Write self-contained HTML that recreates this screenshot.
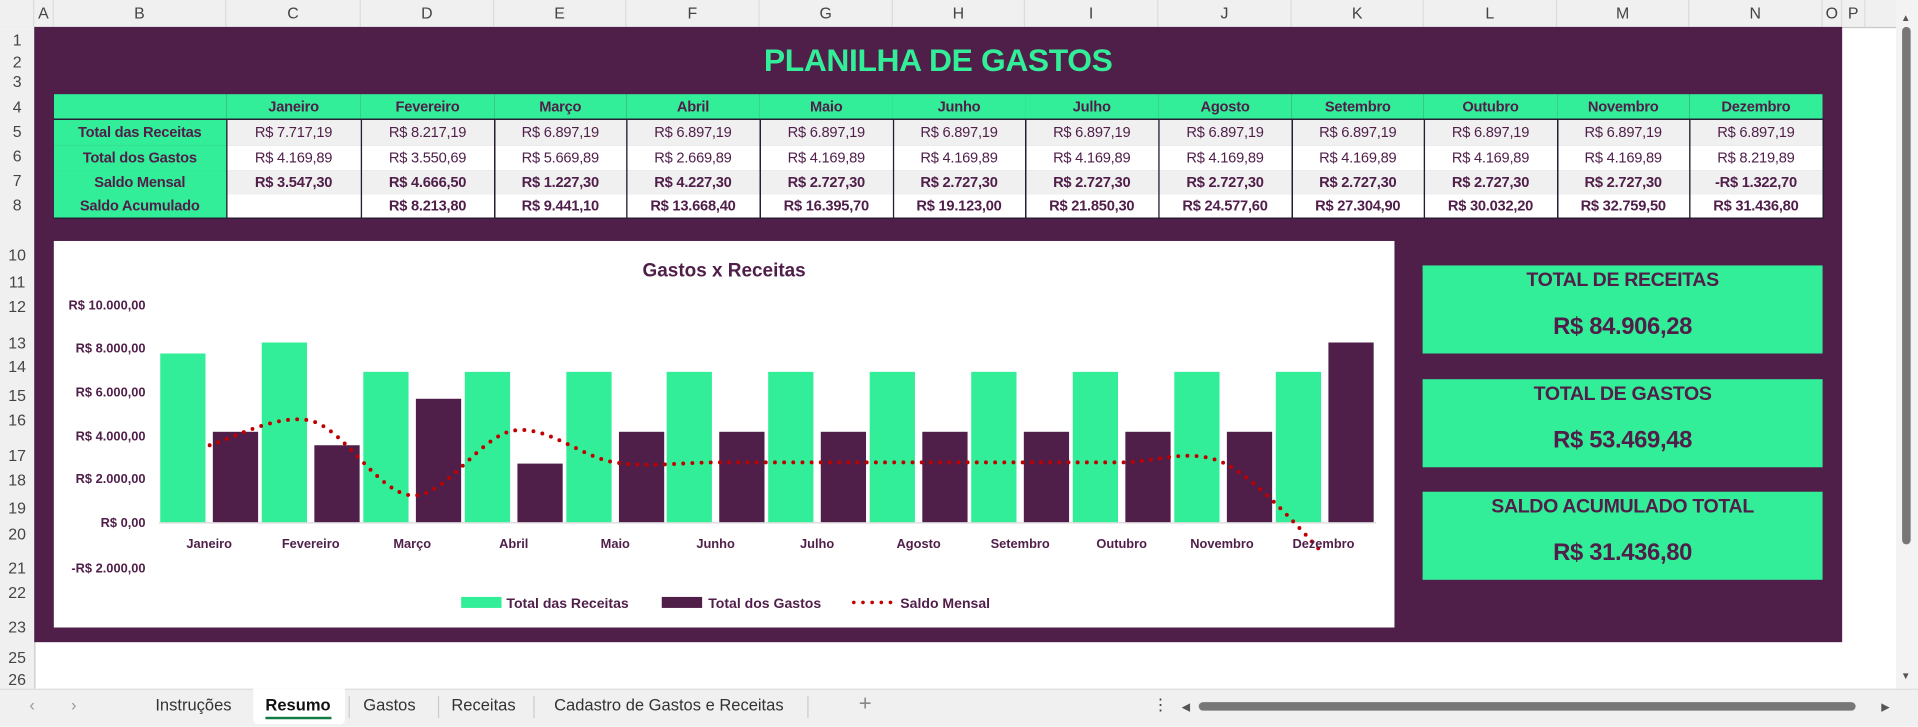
<!DOCTYPE html>
<html><head><meta charset="utf-8">
<style>
html,body{margin:0;padding:0;width:1918px;height:725px;overflow:hidden;background:#fff;}
#s{position:absolute;left:0;top:0;width:1568px;height:593px;transform:scale(1.22321);transform-origin:0 0;font-family:"Liberation Sans",sans-serif;color:#4f1e49;}
.a{position:absolute;}
.ch{position:absolute;top:0;height:22px;line-height:22px;text-align:center;font-size:13px;color:#444;border-right:1px solid #dcdcdc;box-sizing:border-box;}
.rh{position:absolute;left:0;width:28px;text-align:center;font-size:13px;color:#444;}
table{border-collapse:collapse;position:absolute;left:44px;top:77px;table-layout:fixed;}
td{padding:0;font-size:12px;text-align:center;white-space:nowrap;overflow:hidden;color:#4f1e49;letter-spacing:-0.2px;}
tr.h td{background:#33ee99;font-weight:bold;height:20px;}
td.l{background:#33ee99;font-weight:bold;}
td.d{border-left:1px solid #1f1f2f;border-right:1px solid #1f1f2f;}
tr.g td.d{background:#f0f0f0;}
tr.w td.d{background:#fff;}
tr.b td.d{font-weight:bold;}
.kpi{position:absolute;left:1163px;width:327px;height:72px;background:#33ee99;text-align:center;font-weight:bold;letter-spacing:-0.3px;}
.kpi .t{position:absolute;top:4px;left:0;right:0;font-size:16px;}
.kpi .v{position:absolute;top:39px;left:0;right:0;font-size:19.5px;}
.tab{position:absolute;top:569px;font-size:13.5px;color:#333;}
</style></head><body><div id="s">
<div class="a" style="left:0;top:0;width:1550px;height:22px;background:#f0f0f0;border-bottom:1px solid #c8c8c8;"></div>
<div class="a" style="left:0;top:0;width:28px;height:22px;border-right:1px solid #dcdcdc;box-sizing:border-box;"></div>
<div class="ch" style="left:28px;width:16px">A</div>
<div class="ch" style="left:44px;width:141px">B</div>
<div class="ch" style="left:185px;width:110px">C</div>
<div class="ch" style="left:295px;width:109px">D</div>
<div class="ch" style="left:404px;width:108px">E</div>
<div class="ch" style="left:512px;width:109px">F</div>
<div class="ch" style="left:621px;width:109px">G</div>
<div class="ch" style="left:730px;width:108px">H</div>
<div class="ch" style="left:838px;width:109px">I</div>
<div class="ch" style="left:947px;width:109px">J</div>
<div class="ch" style="left:1056px;width:108px">K</div>
<div class="ch" style="left:1164px;width:109px">L</div>
<div class="ch" style="left:1273px;width:108px">M</div>
<div class="ch" style="left:1381px;width:109px">N</div>
<div class="ch" style="left:1490px;width:16px">O</div>
<div class="ch" style="left:1506px;width:19px">P</div>
<div class="a" style="left:0;top:22px;width:28px;height:541px;background:#f0f0f0;border-right:1px solid #c8c8c8;"></div>
<div class="rh" style="top:25px">1</div><div class="rh" style="top:43px">2</div><div class="rh" style="top:59px">3</div>
<div class="rh" style="top:80px">4</div><div class="rh" style="top:100px">5</div><div class="rh" style="top:120px">6</div>
<div class="rh" style="top:140px">7</div><div class="rh" style="top:160px">8</div>
<div class="rh" style="top:201px">10</div><div class="rh" style="top:223px">11</div><div class="rh" style="top:243px">12</div>
<div class="rh" style="top:273px">13</div><div class="rh" style="top:292px">14</div><div class="rh" style="top:316px">15</div>
<div class="rh" style="top:336px">16</div><div class="rh" style="top:365px">17</div><div class="rh" style="top:385px">18</div>
<div class="rh" style="top:408px">19</div><div class="rh" style="top:429px">20</div><div class="rh" style="top:457px">21</div>
<div class="rh" style="top:477px">22</div><div class="rh" style="top:505px">23</div><div class="rh" style="top:530px">25</div>
<div class="rh" style="top:548px">26</div>
<div class="a" style="left:28px;top:22px;width:1478px;height:503px;background:#4f1e49;"></div>
<div class="a" style="left:28px;top:34px;width:1478px;text-align:center;font-size:26px;font-weight:bold;color:#33ee99;letter-spacing:-0.3px;">PLANILHA DE GASTOS</div>
<table>
<colgroup><col style="width:141px"><col style="width:110px"><col style="width:109px"><col style="width:108px"><col style="width:109px"><col style="width:109px"><col style="width:108px"><col style="width:109px"><col style="width:109px"><col style="width:108px"><col style="width:109px"><col style="width:108px"><col style="width:109px"></colgroup>
<tr class="h"><td></td><td>Janeiro</td><td>Fevereiro</td><td>Março</td><td>Abril</td><td>Maio</td><td>Junho</td><td>Julho</td><td>Agosto</td><td>Setembro</td><td>Outubro</td><td>Novembro</td><td>Dezembro</td></tr>
<tr class="g" style="height:21px;border-top:1px solid #1f1f2f"><td class="l">Total das Receitas</td><td class="d">R$ 7.717,19</td><td class="d">R$ 8.217,19</td><td class="d">R$ 6.897,19</td><td class="d">R$ 6.897,19</td><td class="d">R$ 6.897,19</td><td class="d">R$ 6.897,19</td><td class="d">R$ 6.897,19</td><td class="d">R$ 6.897,19</td><td class="d">R$ 6.897,19</td><td class="d">R$ 6.897,19</td><td class="d">R$ 6.897,19</td><td class="d">R$ 6.897,19</td></tr>
<tr class="w" style="height:20px"><td class="l">Total dos Gastos</td><td class="d">R$ 4.169,89</td><td class="d">R$ 3.550,69</td><td class="d">R$ 5.669,89</td><td class="d">R$ 2.669,89</td><td class="d">R$ 4.169,89</td><td class="d">R$ 4.169,89</td><td class="d">R$ 4.169,89</td><td class="d">R$ 4.169,89</td><td class="d">R$ 4.169,89</td><td class="d">R$ 4.169,89</td><td class="d">R$ 4.169,89</td><td class="d">R$ 8.219,89</td></tr>
<tr class="g b" style="height:20px"><td class="l">Saldo Mensal</td><td class="d">R$ 3.547,30</td><td class="d">R$ 4.666,50</td><td class="d">R$ 1.227,30</td><td class="d">R$ 4.227,30</td><td class="d">R$ 2.727,30</td><td class="d">R$ 2.727,30</td><td class="d">R$ 2.727,30</td><td class="d">R$ 2.727,30</td><td class="d">R$ 2.727,30</td><td class="d">R$ 2.727,30</td><td class="d">R$ 2.727,30</td><td class="d">-R$ 1.322,70</td></tr>
<tr class="w b" style="height:20px;border-bottom:1px solid #1f1f2f"><td class="l">Saldo Acumulado</td><td class="d"></td><td class="d">R$ 8.213,80</td><td class="d">R$ 9.441,10</td><td class="d">R$ 13.668,40</td><td class="d">R$ 16.395,70</td><td class="d">R$ 19.123,00</td><td class="d">R$ 21.850,30</td><td class="d">R$ 24.577,60</td><td class="d">R$ 27.304,90</td><td class="d">R$ 30.032,20</td><td class="d">R$ 32.759,50</td><td class="d">R$ 31.436,80</td></tr>
</table>
<svg class="a" style="left:0;top:0" width="1568" height="593" font-family="Liberation Sans, sans-serif">
<rect x="44" y="197" width="1096" height="316" fill="#fff"/>
<text x="592" y="226" text-anchor="middle" font-size="15.5" font-weight="bold" fill="#4f1e49">Gastos x Receitas</text>
<g font-size="10.5" font-weight="bold" fill="#4f1e49" text-anchor="end">
<text x="119" y="253">R$ 10.000,00</text><text x="119" y="288">R$ 8.000,00</text><text x="119" y="324">R$ 6.000,00</text>
<text x="119" y="360">R$ 4.000,00</text><text x="119" y="395">R$ 2.000,00</text><text x="119" y="431">R$ 0,00</text>
<text x="119" y="468">-R$ 2.000,00</text></g>
<g fill="#33ee99">
<rect x="131" y="289" width="37" height="138"/><rect x="214" y="280" width="37" height="147"/><rect x="297" y="304" width="37" height="123"/>
<rect x="380" y="304" width="37" height="123"/><rect x="463" y="304" width="37" height="123"/><rect x="545" y="304" width="37" height="123"/>
<rect x="628" y="304" width="37" height="123"/><rect x="711" y="304" width="37" height="123"/><rect x="794" y="304" width="37" height="123"/>
<rect x="877" y="304" width="37" height="123"/><rect x="960" y="304" width="37" height="123"/><rect x="1043" y="304" width="37" height="123"/></g>
<g fill="#4f1e49">
<rect x="174" y="353" width="37" height="74"/><rect x="257" y="364" width="37" height="63"/><rect x="340" y="326" width="37" height="101"/>
<rect x="423" y="379" width="37" height="48"/><rect x="506" y="353" width="37" height="74"/><rect x="588" y="353" width="37" height="74"/>
<rect x="671" y="353" width="37" height="74"/><rect x="754" y="353" width="37" height="74"/><rect x="837" y="353" width="37" height="74"/>
<rect x="920" y="353" width="37" height="74"/><rect x="1003" y="353" width="37" height="74"/><rect x="1086" y="280" width="37" height="147"/></g>
<line x1="130" y1="427.5" x2="1125" y2="427.5" stroke="#d9d9d9" stroke-width="1"/>
<path d="M171.4,364 C185.2,360.7 226.6,337.2 254.2,344 C281.8,350.8 309.4,403.7 337,405 C364.6,406.3 392.2,356.5 419.8,352 C447.4,347.5 475,373.7 502.6,378 C530.2,382.3 557.8,378 585.4,378 L916.6,378 C944.2,378 971.8,365.8 999.4,378 C1027,390.2 1068.4,438.8 1082.2,453" fill="none" stroke="#c00000" stroke-width="3.2" stroke-linecap="round" stroke-dasharray="0 7.5"/>
<g font-size="10.5" font-weight="bold" fill="#4f1e49" text-anchor="middle">
<text x="171" y="448">Janeiro</text><text x="254" y="448">Fevereiro</text><text x="337" y="448">Março</text><text x="420" y="448">Abril</text>
<text x="503" y="448">Maio</text><text x="585" y="448">Junho</text><text x="668" y="448">Julho</text><text x="751" y="448">Agosto</text>
<text x="834" y="448">Setembro</text><text x="917" y="448">Outubro</text><text x="999" y="448">Novembro</text><text x="1082" y="448">Dezembro</text></g>
<rect x="377" y="488" width="33" height="9" fill="#33ee99"/>
<rect x="541" y="488" width="33" height="9" fill="#4f1e49"/>
<line x1="698" y1="492.5" x2="732" y2="492.5" stroke="#c00000" stroke-width="3" stroke-linecap="round" stroke-dasharray="0 7.5"/>
<g font-size="11.5" font-weight="bold" fill="#4f1e49"><text x="414" y="497">Total das Receitas</text><text x="579" y="497">Total dos Gastos</text><text x="736" y="497">Saldo Mensal</text></g>
</svg>
<div class="kpi" style="top:217px"><div class="t">TOTAL DE RECEITAS</div><div class="v">R$ 84.906,28</div></div>
<div class="kpi" style="top:310px"><div class="t">TOTAL DE GASTOS</div><div class="v">R$ 53.469,48</div></div>
<div class="kpi" style="top:402px"><div class="t">SALDO ACUMULADO TOTAL</div><div class="v">R$ 31.436,80</div></div>
<div class="a" style="left:1550px;top:0;width:18px;height:563px;background:#f3f3f3;"></div>
<div class="a" style="left:1554px;top:10px;font-size:8px;color:#555">▲</div>
<div class="a" style="left:1555px;top:22px;width:7px;height:423px;background:#777;border-radius:4px;"></div>
<div class="a" style="left:1554px;top:548px;font-size:8px;color:#555">▼</div>
<div class="a" style="left:0;top:563px;width:1568px;height:30px;background:#f0f0f0;border-top:1px solid #ddd;"></div>
<div class="tab" style="left:24px;color:#999">‹</div><div class="tab" style="left:58px;color:#999">›</div>
<div class="a" style="left:207px;top:563px;width:75px;height:29px;background:#fff;border-radius:0 0 4px 4px;"></div>
<div class="tab" style="left:127px">Instruções</div>
<div class="tab" style="left:217px;font-weight:bold;color:#111">Resumo</div>
<div class="a" style="left:217px;top:586px;width:54px;height:2px;background:#107c41"></div>
<div class="tab" style="left:297px">Gastos</div>
<div class="tab" style="left:369px">Receitas</div>
<div class="tab" style="left:453px">Cadastro de Gastos e Receitas</div>
<div class="a" style="left:285px;top:569px;width:1px;height:18px;background:#ccc"></div>
<div class="a" style="left:358px;top:569px;width:1px;height:18px;background:#ccc"></div>
<div class="a" style="left:436px;top:569px;width:1px;height:18px;background:#ccc"></div>
<div class="a" style="left:660px;top:569px;width:1px;height:18px;background:#ccc"></div>
<div class="tab" style="left:702px;font-size:18px;top:565px;color:#888">+</div>
<div class="tab" style="left:942px;color:#444">⋮</div>
<div class="tab" style="left:966px;font-size:9px;top:573px;color:#555">◀</div>
<div class="a" style="left:980px;top:574px;width:537px;height:7px;background:#777;border-radius:4px;"></div>
<div class="tab" style="left:1538px;font-size:9px;top:573px;color:#555">▶</div>
</div></body></html>
